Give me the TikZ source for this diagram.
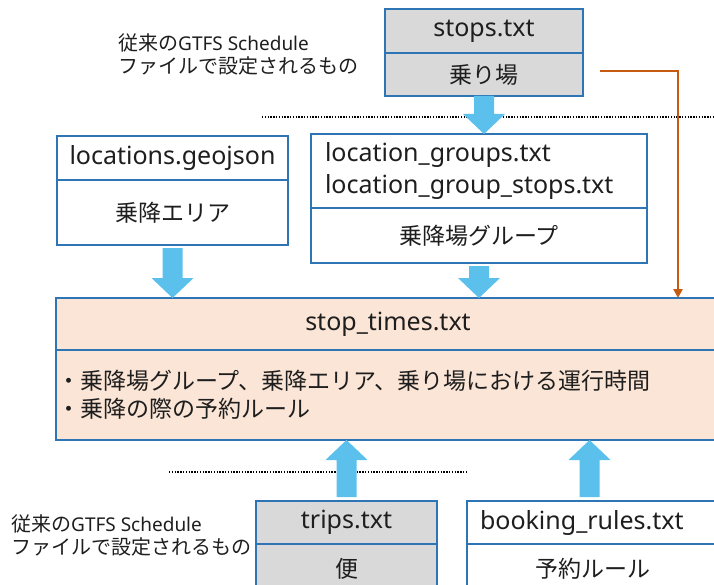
\documentclass[tikz,border=0pt]{standalone}
\usepackage{fontspec}
\setmainfont{Noto Sans}
\newfontfamily\jp{Noto Sans CJK JP}
\usetikzlibrary{arrows.meta,calc}
\definecolor{boxblue}{HTML}{2E75B6}
\definecolor{grayfill}{HTML}{D9D9D9}
\definecolor{peach}{HTML}{FBE5D6}
\definecolor{arrowblue}{HTML}{5BC0EB}
\definecolor{orangeline}{HTML}{C55A11}
\definecolor{txt}{HTML}{1E1E1E}
\newcommand\blockarrow[2]{%
  \fill[arrowblue] let \p1=(#1), \p2=(#2), \n1={sign(\y2-\y1)} in
    (\x1-10pt,\y1) -- (\x1-10pt,\y2-\n1*20pt) -- (\x1-21pt,\y2-\n1*20pt) -- (\x1,\y2)
    -- (\x1+21pt,\y2-\n1*20pt) -- (\x1+10pt,\y2-\n1*20pt) -- (\x1+10pt,\y1) -- cycle;}
\begin{document}
\begin{tikzpicture}[x=1pt,y=-1pt,
  cell/.style={draw=boxblue, line width=2pt, rectangle, anchor=north west,
    inner sep=0pt, outer sep=0pt, text=txt, align=center},
  latin/.style={font=\fontsize{25}{32}\selectfont},
  jptext/.style={font=\jp\fontsize{23}{28}\selectfont},
  sidelabel/.style={text=txt, align=left, anchor=west, inner sep=0pt,
    font=\jp\fontsize{20}{23}\selectfont},
  dotline/.style={draw=black, line width=1.4pt, dash pattern=on 1.4pt off 1.4pt},
  orangearrow/.style={draw=orangeline, line width=2.4pt, -{Triangle[width=9pt,length=9pt]}}
]
\useasboundingbox (0,0) rectangle (714,585);
\clip (0,0) rectangle (714,585);

% side labels
\node[sidelabel] (lblTop) at (118,54) {従来の\fontspec{Noto Sans}\fontsize{19}{23}\selectfont GTFS Schedule\\ファイルで設定されるもの};
\node[sidelabel] (lblBot) at (11,535) {従来の\fontspec{Noto Sans}\fontsize{19}{23}\selectfont GTFS Schedule\\ファイルで設定されるもの};

% stops.txt
\node[cell, latin, fill=grayfill, minimum width=198pt, minimum height=44pt] (stopsH) at (385,9) {stops.txt};
\node[cell, jptext, fill=grayfill, minimum width=198pt, minimum height=43pt] (stopsB) at (385,53) {乗り場};

% locations.geojson
\node[cell, latin, fill=white, minimum width=231pt, minimum height=44pt] (locH) at (57,136) {locations.geojson};
\node[cell, jptext, fill=white, minimum width=231pt, minimum height=65pt] (locB) at (57,180) {乗降エリア};

% location groups
\node[cell, latin, fill=white, minimum width=336pt, minimum height=74pt, text width=308pt, align=left,
  font=\fontsize{25}{32}\selectfont] (groupsH) at (311,134) {location\_groups.txt\\location\_group\_stops.txt};
\node[cell, jptext, fill=white, minimum width=336pt, minimum height=55pt] (groupsB) at (311,208) {乗降場グループ};

% stop_times
\node[cell, latin, fill=peach, minimum width=664pt, minimum height=52pt] (stH) at (56,298) {stop\_times.txt};
\node[cell, jptext, fill=peach, minimum width=664pt, minimum height=90pt, text width=662pt, align=left] (stB) at (56,350)
  {・乗降場グループ、乗降エリア、乗り場における運行時間\\・乗降の際の予約ルール};

% trips
\node[cell, latin, fill=grayfill, minimum width=181pt, minimum height=43pt] (tripsH) at (256,501) {trips.txt};
\node[cell, jptext, fill=grayfill, minimum width=181pt, minimum height=50pt] (tripsB) at (256,544) {便};

% booking rules
\node[cell, latin, fill=white, minimum width=251pt, minimum height=43pt, text width=225pt, align=left] (bookH) at (467,501) {booking\_rules.txt};
\node[cell, jptext, fill=white, minimum width=251pt, minimum height=50pt] (bookB) at (467,544) {予約ルール};

% dotted separators
\draw[dotline] (262,117) -- (714,117);
\draw[dotline] (169,472) -- (468,472);

% block arrows
\blockarrow{stopsB.south}{stopsB.south |- groupsH.north}
\blockarrow{$(locB.south)+(0,3)$}{locB.south |- stH.north}
\blockarrow{$(groupsB.south)+(0,3)$}{groupsB.south |- stH.north}
\blockarrow{$(tripsH.north)+(0,-4)$}{tripsH.north |- stB.south}
\blockarrow{$(bookH.north)+(-3,-4)$}{$(bookH.north |- stB.south)+(-3,0)$}

% orange connector
\coordinate (ostart) at (600,71);
\coordinate (ocorner) at (678,71);
\draw[orangearrow] (ostart) -- (ocorner) -- (ocorner |- stH.north);
\end{tikzpicture}
\end{document}
